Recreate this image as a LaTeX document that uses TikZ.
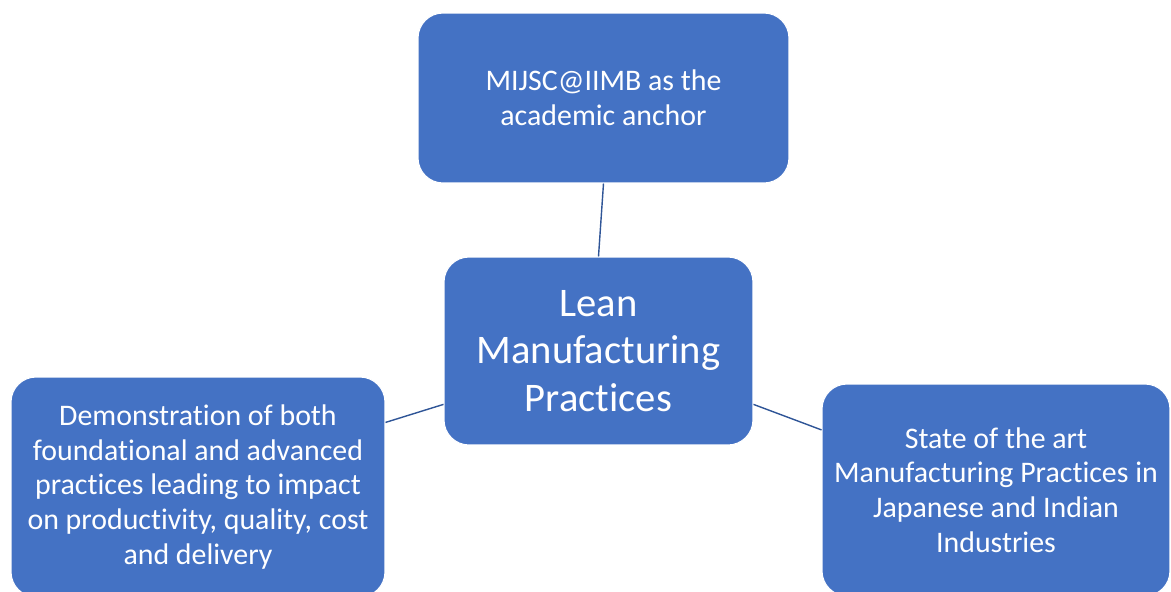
\documentclass[tikz,border=0pt]{standalone}
\usepackage{fontspec}
\setmainfont[Ligatures=NoCommon]{Carlito}
\definecolor{boxblue}{HTML}{4472C4}
\definecolor{linkblue}{HTML}{2F5597}
\begin{document}
\begin{tikzpicture}[x=0.02cm, y=-0.02cm,
    topic/.style={draw=white, line width=0.6pt, fill=boxblue, rounded corners=0.5cm,
        text=white, align=center, inner sep=0pt},
    small/.style={font=\fontsize{17}{19.8}\selectfont},
    big/.style={font=\fontsize{23.1}{27.2}\selectfont},
    link/.style={draw=linkblue, line width=0.8pt}]

    \useasboundingbox (0,0) rectangle (1171,592);

    \node[topic, small, minimum width=7.42cm, minimum height=3.4cm] (anchor) at (603.5,98)
        {MIJSC@IIMB as the\\academic anchor};
    \node[topic, big, minimum width=6.18cm, minimum height=3.76cm] (lean) at (598.5,351)
        {Lean\\Manufacturing\\Practices};
    \node[topic, small, minimum width=7.48cm, minimum height=4.4cm] (demo) at (198,487)
        {Demonstration of both\\foundational and advanced\\practices leading to impact\\on productivity, quality, cost\\and delivery};
    \node[topic, small, minimum width=6.96cm, minimum height=4.24cm] (state) at (996,490)
        {State of the art\\Manufacturing Practices in\\Japanese and Indian\\Industries};

    \draw[link] (anchor.south) -- (lean.north);
    \draw[link] (demo.19) -- (lean.199);
    \draw[link] (lean.-19) -- (state.161);

\end{tikzpicture}
\end{document}
